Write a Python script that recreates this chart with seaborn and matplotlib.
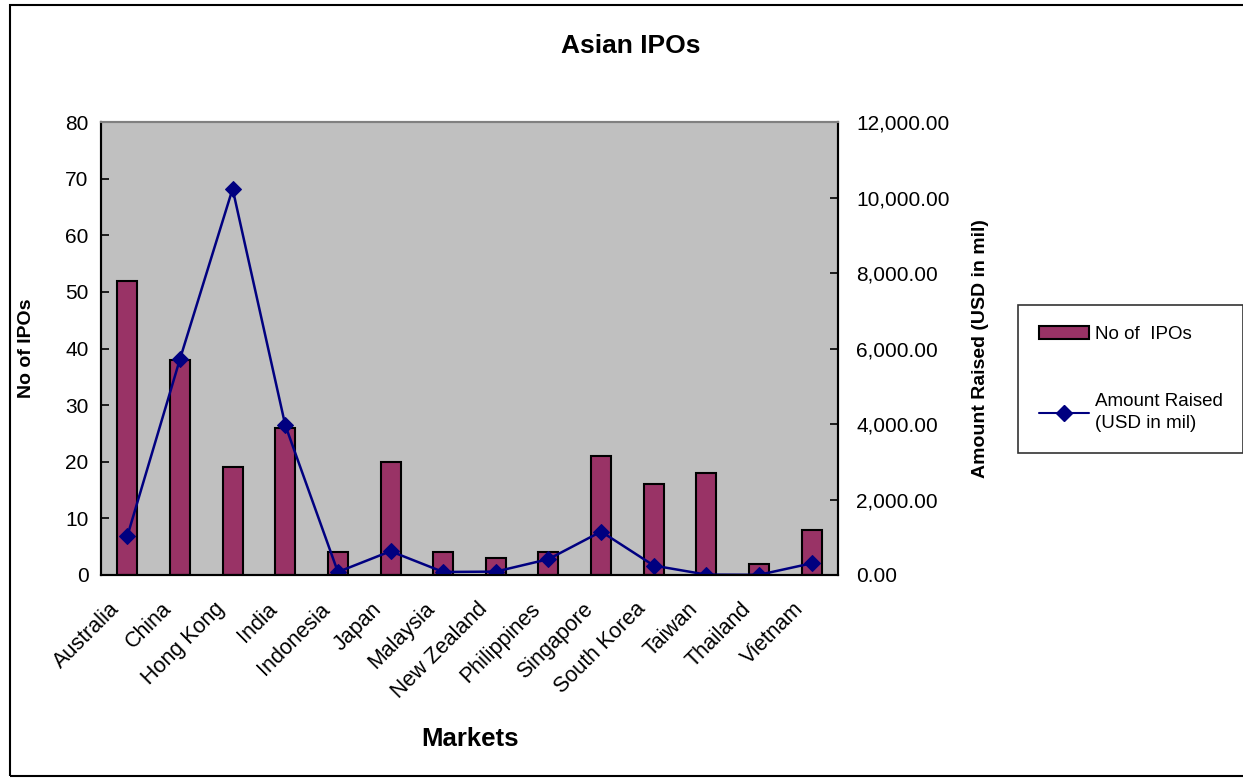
import matplotlib
matplotlib.use("Agg")
import matplotlib.pyplot as plt
import matplotlib.patches as mpatches
from matplotlib.lines import Line2D
from matplotlib import ticker
import numpy as np
import pandas as pd
import seaborn as sns

markets = ["Australia", "China", "Hong Kong", "India", "Indonesia", "Japan", "Malaysia",
           "New Zealand", "Philippines", "Singapore", "South Korea", "Taiwan", "Thailand", "Vietnam"]
no_of_ipos = [52, 38, 19, 26, 4, 20, 4, 3, 4, 21, 16, 18, 2, 8]
amount_raised = [1030, 5720, 10230, 3970, 80, 630, 80, 90, 420, 1150, 250, 10, 5, 310]

bar_color = "#993366"
line_color = "#000080"

sns.set_theme(style="white")
plt.rcParams["font.family"] = ["Liberation Sans", "DejaVu Sans"]
plt.rcParams["text.color"] = "black"
plt.rcParams["axes.labelcolor"] = "black"
plt.rcParams["xtick.color"] = "black"
plt.rcParams["ytick.color"] = "black"

df = pd.DataFrame({"Market": markets, "IPOs": no_of_ipos, "Amount": amount_raised})

fig = plt.figure(figsize=(12.43, 7.78), dpi=100)
ax = fig.add_axes([101 / 1243, 1 - 575 / 778, (838 - 101) / 1243, (575 - 122) / 778])
ax.set_facecolor("#C0C0C0")

sns.barplot(data=df, x="Market", y="IPOs", color=bar_color, width=0.38,
            edgecolor="black", linewidth=1.5, saturation=1, ax=ax)
ax.set_ylim(0, 80)
ax.set_xlim(-0.5, len(markets) - 0.5)
ax.yaxis.set_major_locator(ticker.MultipleLocator(10))

ax2 = ax.twinx()
sns.lineplot(data=df, x="Market", y="Amount", color=line_color, marker="D", markersize=8,
             markeredgecolor=line_color, linewidth=1.8, ax=ax2)
ax2.set_ylim(0, 12000)
ax2.yaxis.set_major_locator(ticker.MultipleLocator(2000))
ax2.yaxis.set_major_formatter(ticker.FuncFormatter(lambda v, p: f"{v:,.2f}"))

# invisible major ticks carry the labels (nudged left like Excel), minor ticks mark boundaries
ax.set_xticks(np.arange(len(markets)) - 0.36)
ax.set_xticklabels(markets, rotation=45, ha="right", va="top", rotation_mode="anchor", fontsize=15.5)
ax.xaxis.set_minor_locator(ticker.FixedLocator(np.arange(-0.5, len(markets), 1)))
ax.tick_params(axis="x", which="major", length=0, pad=17)
ax.tick_params(axis="x", which="minor", length=5, direction="in", color="black", width=1.2)
ax.tick_params(axis="y", length=6, direction="in", color="black", width=1.2, labelsize=15, pad=9)
ax2.tick_params(axis="y", length=6, direction="in", color="black", width=1.2, labelsize=15, pad=13)

for a in (ax, ax2):
    for s in ("left", "bottom", "right"):
        a.spines[s].set_color("black")
        a.spines[s].set_linewidth(1.5)
    a.spines["top"].set_color("#808080")
    a.spines["top"].set_linewidth(1.5)

ax.set_xlabel("Markets", fontsize=18.5, fontweight="bold")
ax.set_ylabel("No of IPOs", fontsize=14, fontweight="bold")
ax2.set_ylabel("Amount Raised (USD in mil)", fontsize=14, fontweight="bold")
ax.xaxis.set_label_coords(0.5, -0.336)
ax.yaxis.set_label_coords(-0.089, 0.5)
ax2.yaxis.set_label_coords(1.182, 0.5)
if ax2.get_legend() is not None:
    ax2.get_legend().remove()

fig.text(631 / 1243, 1 - 46 / 778, "Asian IPOs", ha="center", va="center", fontsize=19, fontweight="bold")

handles = [mpatches.Patch(facecolor=bar_color, edgecolor="black", linewidth=1.5),
           Line2D([], [], color=line_color, marker="D", markersize=8, linewidth=1.5)]
leg = fig.legend(handles, ["No of  IPOs", "Amount Raised\n(USD in mil)"],
                 loc="upper left", bbox_to_anchor=(1018 / 1243, 1 - 305 / 778),
                 frameon=True, fancybox=False, edgecolor="black", fontsize=13.5,
                 labelspacing=2.7, handlelength=2.7, handletextpad=0.3,
                 borderpad=1.1, borderaxespad=0)
leg.get_frame().set_linewidth(1.2)
for t in leg.get_texts():
    t.set_linespacing(1.35)

# outer chart border
fig.patches.append(mpatches.Rectangle((10 / 1243, 0.002), 1.0, 1 - 5 / 778 - 0.002,
                                      transform=fig.transFigure, fill=False,
                                      edgecolor="black", linewidth=1.5))

fig.savefig("out.png", dpi=100)
